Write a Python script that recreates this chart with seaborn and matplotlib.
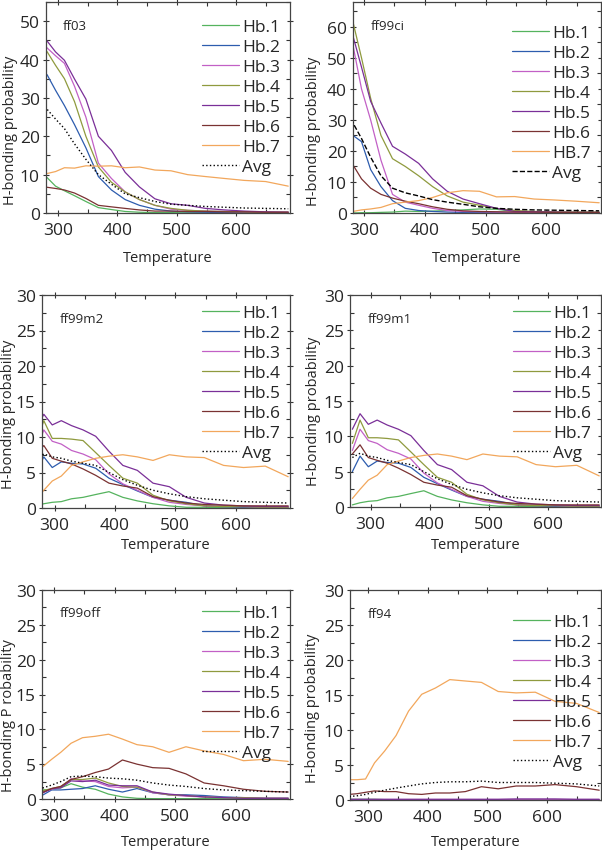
import matplotlib
matplotlib.use("Agg")
import matplotlib.pyplot as plt
import seaborn as sns
from matplotlib.ticker import MultipleLocator

# Data (temperature grid shared by all panels)
temps = [269, 282, 296, 311, 328, 347, 368, 390, 413, 437, 463, 490, 518, 548, 580, 613, 649, 687]

ff03 = {
    "Hb.1": [10.5, 9.2, 7.0, 5.8, 4.5, 3.0, 1.4, 0.9, 0.4, 0.2, 0.1, 0.1, 0.05, 0.05, 0.05, 0.05, 0.05, 0.05],
    "Hb.2": [38, 36, 32, 28, 23, 17, 9.5, 6.0, 3.5, 2.0, 1.0, 0.5, 0.3, 0.2, 0.1, 0.1, 0.1, 0.1],
    "Hb.3": [45, 43, 41, 39, 33, 25, 13, 9, 5.5, 3.5, 2.0, 1.0, 0.7, 0.5, 0.4, 0.3, 0.2, 0.2],
    "Hb.4": [44, 42, 38.5, 35, 29, 20, 12, 8, 5.5, 3.5, 2.0, 1.2, 0.7, 0.5, 0.4, 0.3, 0.2, 0.2],
    "Hb.5": [47, 44.8, 42, 39.8, 34.9, 29.7, 20, 16.3, 10.6, 6.8, 3.7, 2.4, 2.0, 1.2, 0.8, 0.5, 0.3, 0.2],
    "Hb.6": [7.0, 6.7, 6.4, 6.0, 5.2, 3.8, 2.0, 1.6, 1.2, 0.8, 0.5, 0.5, 0.4, 0.4, 0.3, 0.3, 0.2, 0.2],
    "Hb.7": [10.0, 10.3, 10.8, 11.8, 11.7, 12.3, 12.2, 12.3, 11.8, 12.0, 11.2, 11.0, 10.0, 9.5, 9.0, 8.5, 8.2, 7.0],
    "Avg": [29, 27, 24.5, 22, 18, 14, 10, 7.5, 5.0, 4.0, 3.0, 2.3, 2.0, 1.7, 1.5, 1.3, 1.2, 1.1],
}

ff99ci = {
    "Hb.1": [0, 0, 0.1, 0.1, 0.2, 0.3, 0.6, 0.5, 0.6, 0.8, 1.0, 1.3, 1.2, 0.5, 0.3, 0.2, 0.1, 0.1],
    "Hb.2": [26, 25, 23, 14, 8.5, 4.0, 1.5, 0.8, 0.5, 0.3, 0.2, 0.2, 0.1, 0.1, 0.1, 0.1, 0.1, 0.1],
    "Hb.3": [60, 54, 40, 30, 17, 6.0, 3.5, 2.5, 1.5, 0.8, 0.5, 0.4, 0.3, 0.2, 0.2, 0.1, 0.1, 0.1],
    "Hb.4": [66, 61.5, 50, 37, 25, 17.5, 15, 12, 8.5, 5.5, 3.5, 2.5, 1.5, 0.8, 0.5, 0.4, 0.3, 0.3],
    "Hb.5": [62, 57, 47, 36, 29, 21.5, 19, 16, 11, 7, 4.5, 3.0, 1.5, 0.5, 0.4, 0.3, 0.2, 0.2],
    "Hb.6": [18, 15.5, 11, 8, 6, 4.8, 3.8, 3.0, 2.0, 1.2, 0.7, 0.5, 0.4, 0.3, 0.3, 0.2, 0.2, 0.2],
    "HB.7": [0.3, 0.5, 1.0, 1.3, 1.8, 3.0, 3.5, 4.0, 5.0, 6.5, 7.2, 7.0, 5.2, 5.3, 4.5, 4.2, 3.8, 3.3],
    "Avg": [32, 29, 24, 18, 12, 8, 6.5, 5.5, 4.3, 3.5, 2.8, 2.0, 1.5, 1.2, 1.0, 0.9, 0.8, 0.7],
}

ff99m1 = {
    "Hb.1": [0.3, 0.6, 0.8, 0.9, 1.3, 1.5, 1.9, 2.3, 1.5, 1.0, 0.6, 0.3, 0.1, 0.1, 0.05, 0.05, 0.05, 0.05],
    "Hb.2": [5.0, 7.2, 5.7, 6.5, 6.3, 6.2, 5.6, 4.2, 3.3, 2.4, 1.5, 1.1, 0.8, 0.3, 0.2, 0.1, 0.1, 0.1],
    "Hb.3": [8.0, 11.0, 9.4, 9.0, 8.1, 7.6, 6.8, 4.8, 3.4, 2.5, 1.5, 0.8, 0.5, 0.3, 0.2, 0.2, 0.1, 0.1],
    "Hb.4": [9.0, 12.3, 9.8, 9.8, 9.7, 9.5, 7.8, 6.0, 4.2, 3.5, 1.8, 1.0, 0.6, 0.3, 0.2, 0.2, 0.1, 0.1],
    "Hb.5": [11.0, 13.2, 11.7, 12.3, 11.6, 11.0, 10.1, 8.0, 6.0, 5.3, 3.5, 3.0, 1.5, 0.7, 0.4, 0.3, 0.2, 0.2],
    "Hb.6": [7.5, 8.8, 7.0, 6.6, 6.2, 5.5, 4.6, 3.5, 3.1, 2.8, 1.6, 1.1, 0.7, 0.5, 0.4, 0.3, 0.3, 0.3],
    "Hb.7": [1.2, 2.5, 3.8, 4.5, 6.0, 6.5, 7.0, 7.3, 7.5, 7.2, 6.7, 7.5, 7.2, 7.1, 6.0, 5.7, 5.9, 4.4],
    "Avg": [7.0, 7.6, 7.2, 7.0, 6.6, 6.3, 6.0, 5.0, 4.0, 3.2, 2.5, 2.0, 1.6, 1.3, 1.1, 0.9, 0.8, 0.7],
}
# the ff99m2 panel shows the same curves as ff99m1
ff99m2 = ff99m1

ff99off = {
    "Hb.1": [1.0, 1.3, 1.4, 1.6, 2.2, 1.7, 1.4, 0.7, 0.3, 0.1, 0.05, 0.05, 0.05, 0.05, 0.05, 0.05, 0.05, 0.05],
    "Hb.2": [0.4, 0.6, 1.3, 1.3, 1.4, 1.5, 1.9, 1.4, 1.0, 1.5, 0.9, 0.6, 0.6, 0.5, 0.3, 0.2, 0.1, 0.1],
    "Hb.3": [0.8, 1.0, 1.4, 1.7, 2.9, 2.6, 2.5, 1.8, 1.6, 1.7, 0.9, 0.6, 0.4, 0.3, 0.2, 0.2, 0.1, 0.1],
    "Hb.4": [1.0, 1.2, 1.5, 1.8, 2.8, 2.8, 3.0, 2.3, 1.8, 1.7, 1.0, 0.6, 0.5, 0.3, 0.2, 0.2, 0.1, 0.1],
    "Hb.5": [0.7, 0.9, 1.5, 1.6, 2.6, 2.5, 2.7, 2.0, 1.9, 1.9, 1.0, 0.7, 0.5, 0.3, 0.2, 0.1, 0.1, 0.1],
    "Hb.6": [0.8, 1.0, 1.5, 1.8, 2.8, 3.2, 3.8, 4.3, 5.6, 5.0, 4.5, 4.4, 3.6, 2.3, 1.9, 1.4, 1.1, 1.0],
    "Hb.7": [4.2, 4.7, 5.7, 6.7, 8.0, 8.8, 9.0, 9.3, 8.6, 7.8, 7.5, 6.7, 7.5, 6.9, 6.4, 5.5, 5.7, 5.4],
    "Avg": [1.4, 1.6, 2.0, 2.5, 3.2, 3.3, 3.2, 3.0, 2.9, 2.7, 2.3, 2.0, 1.8, 1.5, 1.3, 1.2, 1.1, 1.0],
}

ff94 = {
    "Hb.1": [0.1, 0.1, 0.1, 0.1, 0.05, 0.05, 0.05, 0.05, 0.05, 0.05, 0.05, 0.05, 0.05, 0.05, 0.05, 0.05, 0.05, 0.05],
    "Hb.2": [0.05, 0.05, 0.05, 0.05, 0.05, 0.05, 0.05, 0.05, 0.05, 0.05, 0.05, 0.05, 0.05, 0.05, 0.05, 0.05, 0.05, 0.05],
    "Hb.3": [0.1, 0.1, 0.1, 0.1, 0.1, 0.1, 0.1, 0.1, 0.1, 0.1, 0.1, 0.1, 0.1, 0.1, 0.1, 0.1, 0.1, 0.1],
    "Hb.4": [0.05, 0.05, 0.05, 0.05, 0.05, 0.05, 0.05, 0.05, 0.05, 0.05, 0.05, 0.05, 0.05, 0.05, 0.05, 0.05, 0.05, 0.05],
    "Hb.5": [0.1, 0.1, 0.1, 0.1, 0.1, 0.1, 0.1, 0.1, 0.1, 0.1, 0.1, 0.1, 0.1, 0.15, 0.15, 0.15, 0.1, 0.1],
    "Hb.6": [0.8, 0.9, 1.1, 1.3, 1.2, 1.2, 0.9, 0.8, 1.0, 1.0, 1.2, 1.9, 1.6, 2.0, 2.0, 2.2, 1.9, 1.4],
    "Hb.7": [2.9, 2.9, 3.0, 5.3, 7.0, 9.2, 12.7, 15.1, 16.0, 17.2, 17.0, 16.8, 15.5, 15.3, 15.4, 14.1, 13.8, 12.5],
    "Avg": [0.5, 0.6, 0.8, 1.1, 1.4, 1.7, 2.0, 2.3, 2.5, 2.6, 2.6, 2.7, 2.5, 2.5, 2.5, 2.4, 2.3, 2.0],
}

panel_names = ["ff03", "ff99ci", "ff99m2", "ff99m1", "ff99off", "ff94"]
panel_data = [ff03, ff99ci, ff99m2, ff99m1, ff99off, ff94]
y_limits = [55, 68, 30, 30, 30, 30]
y_steps = [10, 10, 5, 5, 5, 5]
x_starts = [280, 282, 279, 265, 280, 270]
y_labels = ["H-bonding probability"] * 4 + ["H-bonding P robability", "H-bonding probability"]

colors = ["#55b35e", "#2d5cae", "#c260c6", "#8f9a3e", "#7a2f98", "#7a3232", "#f2a75c", "black"]

# layout in pixels
boxes = [(46, 3, 290, 214), (353, 3, 601, 214),
         (42, 296, 290, 509), (350, 296, 601, 508),
         (42, 591, 290, 800), (350, 591, 601, 801)]   # left, top, right, bottom
xlabel_y = [259, 259, 546, 546, 843, 843]             # centre of x label
ylabel_pos = [(10, 130), (313, 131), (8, 414), (313, 411), (8, 716), (312, 708)]
legend_top = [17, 23, 10, 10, 15, 24]   # px below the top spine

sns.set_style("ticks")
plt.rcParams["font.family"] = ["Open Sans", "DejaVu Sans"]

W, H = 602, 853
fig = plt.figure(figsize=(W / 100, H / 100), dpi=100)

for i, name in enumerate(panel_names):
    l, t, r, b = boxes[i]
    w, h = r - l, b - t
    ax = fig.add_axes([l / W, (H - b) / H, w / W, h / H])
    data = panel_data[i]
    for key, col in zip(data.keys(), colors):
        if key == "Avg":
            ls = "--" if name == "ff99ci" else ":"
            sns.lineplot(x=temps, y=data[key], ax=ax, color=col, linestyle=ls,
                         linewidth=1.0, label=key, zorder=3)
        else:
            sns.lineplot(x=temps, y=data[key], ax=ax, color=col, linewidth=0.9,
                         label=key)
    ax.set_xlim(x_starts[i], 690)
    ax.set_ylim(0, y_limits[i])
    ax.xaxis.set_major_locator(MultipleLocator(100))
    ax.xaxis.set_minor_locator(MultipleLocator(50))
    ax.yaxis.set_major_locator(MultipleLocator(y_steps[i]))
    ax.yaxis.set_minor_locator(MultipleLocator(y_steps[i] / 2))
    ax.tick_params(which="major", direction="inout", length=5, width=0.8,
                   top=True, right=True, labelsize=12.5, pad=2, color="#333333")
    ax.tick_params(axis="x", which="major", pad=4)
    ax.tick_params(which="minor", direction="in", length=3, width=0.8,
                   top=True, right=True, color="#333333")
    for sp in ax.spines.values():
        sp.set_color("#444444")
        sp.set_linewidth(0.9)
    ax.set_xlabel("Temperature", fontsize=10.5)
    ax.xaxis.set_label_coords(0.5, (b - (xlabel_y[i] - 8)) / h)
    ax.set_ylabel(y_labels[i], fontsize=10.5)
    lx, ly = ylabel_pos[i]
    ax.yaxis.set_label_coords((lx + 8 - l) / w, (b - ly) / h)
    ax.text(0.07, 0.89, name, transform=ax.transAxes, fontsize=9.5,
            ha="left", va="center")
    ax.legend(loc="upper right", frameon=False, fontsize=12.5, handlelength=2.1,
              handletextpad=0.2, labelspacing=0.22, borderaxespad=0, borderpad=0,
              bbox_to_anchor=(1 - 10 / w, 1 - legend_top[i] / h))

fig.savefig("out.png", dpi=100)
